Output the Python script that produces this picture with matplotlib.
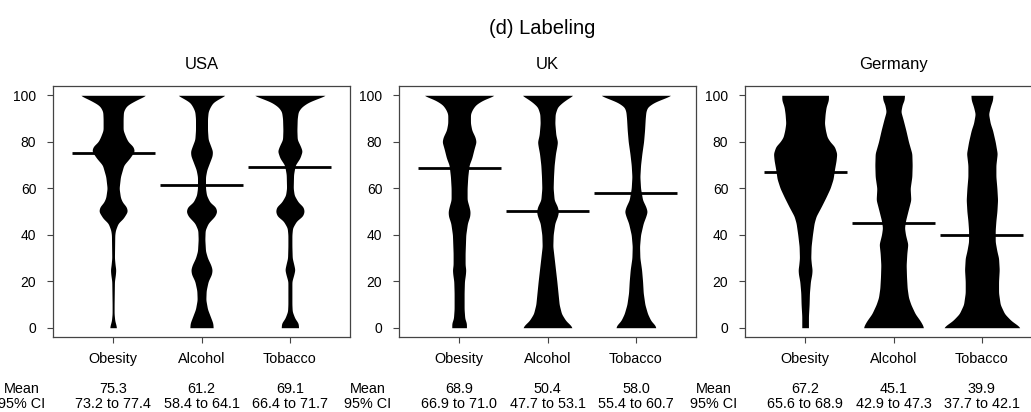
import numpy as np
import matplotlib
matplotlib.use("Agg")
import matplotlib.pyplot as plt
from matplotlib import transforms

plt.rcParams['font.family'] = ['Liberation Sans', 'DejaVu Sans']
plt.rcParams['font.size'] = 10

countries = ["USA", "UK", "Germany"]
categories = ["Obesity", "Alcohol", "Tobacco"]

usa_means = [75.3, 61.2, 69.1]
uk_means = [68.9, 50.4, 58.0]
germany_means = [67.2, 45.1, 39.9]

usa_ci = ["73.2 to 77.4", "58.4 to 64.1", "66.4 to 71.7"]
uk_ci = ["66.9 to 71.0", "47.7 to 53.1", "55.4 to 60.7"]
germany_ci = ["65.6 to 68.9", "42.9 to 47.3", "37.7 to 42.1"]

# violin half-width profiles: (score, relative density)
usa_obesity = [(0, 10), (1, 9), (3, 5), (6, 3), (10, 3), (20, 4), (23, 7), (25, 8), (27, 6),
               (30, 4), (40, 5), (42, 7), (45, 15), (47, 30), (50, 43), (52, 40), (54, 28),
               (56, 22), (60, 18), (65, 22), (70, 32), (73, 50), (76, 64), (78, 60), (80, 45),
               (82, 38), (85, 30), (90, 30), (93, 31), (95, 38), (96, 45), (98, 70), (99, 85),
               (100, 100)]
usa_alcohol = [(0, 35), (2, 34), (5, 26), (8, 18), (12, 13), (16, 14), (20, 20), (23, 30),
               (25, 32), (27, 28), (30, 18), (33, 12), (38, 10), (42, 11), (45, 20), (48, 40),
               (50, 46), (52, 42), (54, 25), (57, 15), (60, 12), (65, 12), (68, 16), (71, 24),
               (74, 32), (76, 33), (78, 28), (81, 20), (85, 18), (90, 18), (93, 20), (95, 26),
               (97, 35), (99, 58), (100, 73)]
usa_tobacco = [(0, 26), (2, 25), (4, 15), (7, 7), (10, 6), (20, 6), (23, 12), (25, 15), (27, 12),
               (30, 7), (35, 6), (40, 6), (43, 8), (46, 20), (48, 38), (50, 43), (52, 40),
               (54, 25), (57, 13), (60, 10), (66, 11), (70, 16), (73, 30), (76, 37), (78, 32),
               (81, 22), (85, 21), (90, 22), (93, 25), (95, 35), (97, 55), (99, 90), (100, 110)]

uk_obesity = [(0, 22), (2, 22), (4, 17), (8, 15), (15, 15), (20, 16), (23, 19), (25, 20),
              (27, 18), (32, 18), (40, 20), (45, 25), (48, 32), (50, 33), (52, 30), (55, 24),
              (60, 24), (65, 26), (70, 30), (73, 38), (77, 45), (80, 51), (82, 48), (85, 38),
              (88, 34), (92, 34), (94, 40), (96, 50), (98, 72), (99, 90), (100, 108)]
uk_alcohol = [(0, 74), (1, 70), (3, 55), (6, 42), (10, 35), (20, 28), (30, 20), (35, 16),
              (40, 17), (45, 22), (48, 30), (50, 33), (52, 30), (55, 20), (60, 17), (65, 18),
              (70, 20), (75, 24), (78, 28), (80, 30), (83, 25), (88, 22), (92, 23), (95, 30),
              (97, 45), (99, 65), (100, 78)]
uk_tobacco = [(0, 60), (1, 58), (3, 45), (6, 35), (10, 27), (15, 22), (20, 20), (25, 17),
              (30, 12), (35, 11), (40, 14), (45, 22), (48, 30), (50, 34), (52, 30), (55, 20),
              (60, 14), (65, 12), (70, 14), (75, 18), (80, 23), (85, 26), (90, 28), (93, 30),
              (95, 35), (97, 55), (99, 90), (100, 108)]

germany_obesity = [(0, 10), (5, 10), (10, 12), (15, 13), (20, 16), (23, 20), (25, 21), (27, 19),
                   (30, 17), (35, 18), (40, 22), (45, 27), (48, 33), (52, 48), (56, 62), (60, 75),
                   (64, 84), (68, 88), (72, 93), (75, 95), (78, 88), (80, 75), (82, 66), (85, 61),
                   (88, 58), (92, 60), (95, 63), (98, 70), (100, 70)]
germany_alcohol = [(0, 90), (1, 88), (3, 80), (6, 65), (10, 52), (13, 45), (17, 41), (22, 39),
                   (27, 38), (32, 40), (36, 43), (40, 36), (43, 33), (46, 36), (50, 43), (55, 52),
                   (60, 50), (65, 55), (70, 56), (75, 55), (80, 45), (85, 37), (90, 28), (93, 22),
                   (96, 26), (98, 32), (100, 33)]
germany_tobacco = [(0, 115), (1, 108), (3, 88), (6, 68), (10, 55), (15, 50), (20, 50), (25, 52),
                   (30, 50), (33, 45), (37, 40), (42, 40), (46, 42), (50, 45), (55, 47), (60, 45),
                   (65, 42), (70, 42), (75, 46), (80, 40), (85, 32), (88, 25), (92, 20), (95, 25),
                   (98, 32), (100, 33)]

profiles = [[usa_obesity, usa_alcohol, usa_tobacco],
            [uk_obesity, uk_alcohol, uk_tobacco],
            [germany_obesity, germany_alcohol, germany_tobacco]]
means = [usa_means, uk_means, germany_means]
cis = [usa_ci, uk_ci, germany_ci]

width_scale = 0.00377   # relative density -> x units


def smooth_profile(profile):
    lv, w = np.array(profile, dtype=float).T
    yy = np.linspace(lv[0], lv[-1], 401)
    ww = np.interp(yy, lv, w)
    k = np.exp(-0.5 * (np.arange(-6, 7) / 2.5) ** 2)
    k /= k.sum()
    ww = np.convolve(np.pad(ww, 6, mode='edge'), k, mode='valid')
    return yy, ww


W, H = 1031, 412
fig = plt.figure(figsize=(W / 100, H / 100), dpi=100)

lefts = [53, 399, 745]
for i, country in enumerate(countries):
    ax = fig.add_axes([lefts[i] / W, (H - 337) / H, 297 / W, 251 / H])
    pos = np.arange(1, 4)
    for j in range(3):
        yy, ww = smooth_profile(profiles[i][j])
        ax.fill_betweenx(yy, pos[j] - ww * width_scale, pos[j] + ww * width_scale,
                         color='black', lw=0)
        ax.hlines(means[i][j], pos[j] - 0.47, pos[j] + 0.47, color='black', lw=2)
    ax.set_xlim(0.32, 3.68)
    ax.set_ylim(-4, 104)
    ax.set_xticks(pos)
    ax.set_xticklabels([])
    ax.set_yticks(np.arange(0, 101, 20))
    ax.tick_params(direction='out', length=4, width=0.8, color='#444', pad=8)
    for s in ax.spines.values():
        s.set_color('#444')
        s.set_linewidth(0.9)
    ax.set_title(country, fontsize=12, pad=12)

    tr = transforms.blended_transform_factory(ax.transData, fig.transFigure)
    for j in range(3):
        ax.text(pos[j], 0.1286, categories[j], transform=tr, ha='center', va='center',
                fontsize=10.4)
        ax.text(pos[j], 0.0558, "%.1f" % means[i][j], transform=tr, ha='center', va='center',
                fontsize=10.4)
        ax.text(pos[j], 0.0194, cis[i][j], transform=tr, ha='center', va='center',
                fontsize=10.4)
    ax.text(-0.03, 0.0558, "Mean", transform=tr, ha='center', va='center', fontsize=10.4)
    ax.text(-0.03, 0.0194, "95% CI", transform=tr, ha='center', va='center', fontsize=10.4)

fig.text(542 / W, 1 - 29 / H, "(d) Labeling", ha='center', va='center', fontsize=14.5)

fig.savefig("out.png", dpi=100)
